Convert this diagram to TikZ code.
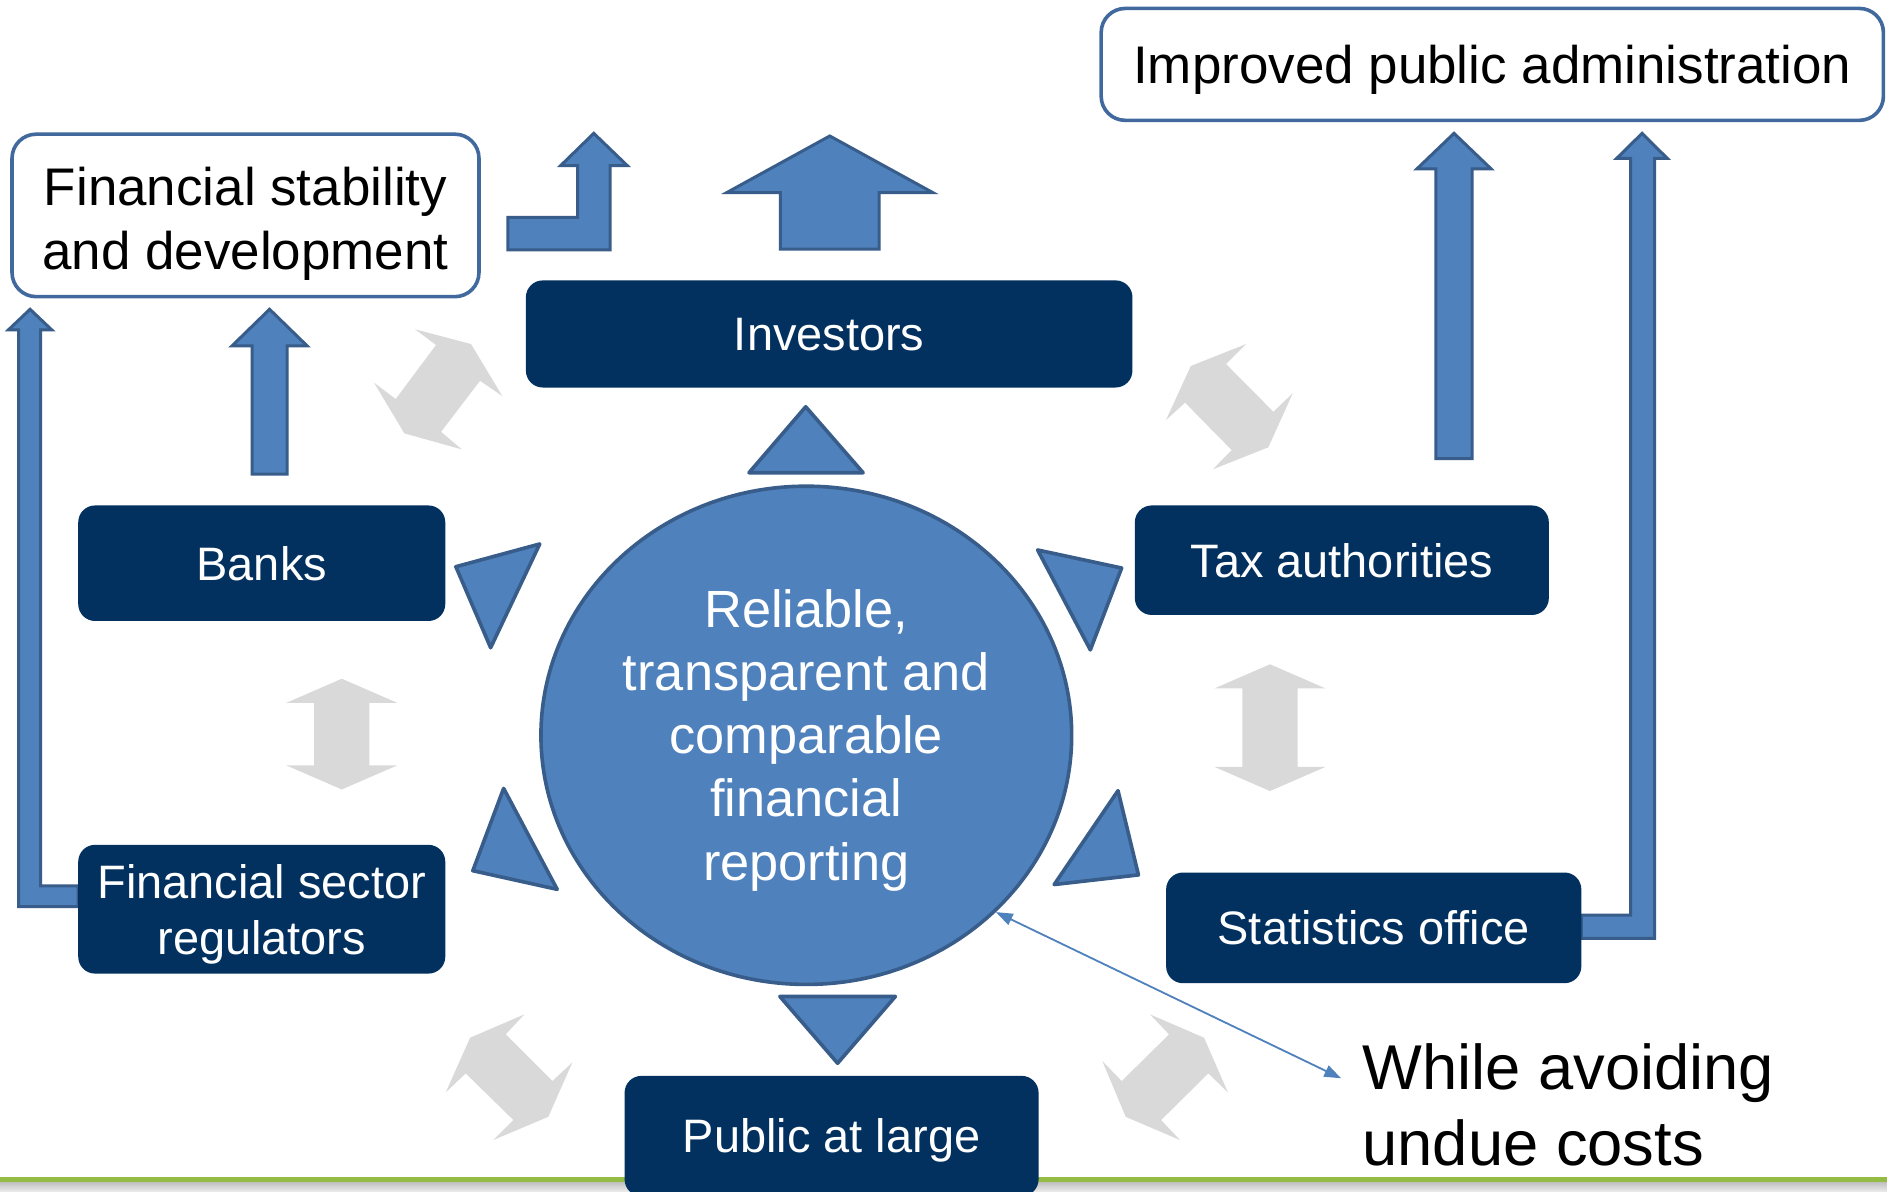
\documentclass[tikz,border=0pt]{standalone}
\usepackage{fontspec}
\setmainfont{Liberation Sans}
\usepackage{tikz}
\usetikzlibrary{arrows.meta}
\usetikzlibrary{shapes.geometric}
\usetikzlibrary{positioning}

\definecolor{navy}{HTML}{03315F}
\definecolor{midblue}{HTML}{4F81BD}
\definecolor{edgeblue}{HTML}{385D8A}
\definecolor{frameblue}{HTML}{41699E}
\definecolor{swapgray}{HTML}{D9D9D9}
\definecolor{rulegreen}{HTML}{94BC44}

\newcommand{\cellstack}[2][c]{\begin{tabular}[t]{@{}#1@{}}#2\end{tabular}}

\tikzset{
    actor/.style={fill=navy, rounded corners=14pt, text=white, inner sep=0pt,
        text height=28pt, text depth=0pt, font=\fontsize{39pt}{47pt}\selectfont},
    outcome/.style={draw=frameblue, line width=3pt, fill=white, rounded corners=20pt,
        inner sep=0pt, font=\fontsize{44pt}{53pt}\selectfont},
    pointer/.style={fill=midblue, draw=edgeblue, line width=3pt, line join=round},
    blockarrow/.style={fill=midblue, draw=edgeblue, line width=2.5pt},
    twoway/.style={fill=swapgray},
    costline/.style={draw=midblue, line width=1.5pt,
        {Triangle[length=14pt,width=10pt]}-{Triangle[length=14pt,width=10pt]}}
}

\begin{document}
\begin{tikzpicture}[x=1pt, y=-1pt]
        \useasboundingbox[fill=white] (0,0) rectangle (1568,990);

        % footer rule
        \fill[rulegreen] (0,978.3) rectangle (1568,982.2);
        \shade[top color=black!25, bottom color=black!8] (0,982.2) rectangle (1568,990);

        % grey two-way arrows between the users
        \fill[twoway] (344.9,273.6) -- (391.4,285.9) -- (417.4,329.1) -- (398.9,316.4) -- (366.5,358.8)
            -- (383.7,373.4) -- (336.0,360.1) -- (310.8,318.0) -- (328.8,331.6) -- (362.3,286.7) -- cycle;
        \fill[twoway] (1035.4,285.9) -- (989.5,304.1) -- (968.9,349.0) -- (984.7,334.6) -- (1023.5,374.0)
            -- (1007.7,390.0) -- (1053.9,371.7) -- (1074.2,326.8) -- (1058.1,342.1) -- (1018.8,302.5) -- cycle;
        \fill[twoway] (435.7,842.9) -- (390.6,862.3) -- (370.4,907.7) -- (387.0,891.9) -- (426.6,930.7)
            -- (409.9,947.3) -- (455.6,928.0) -- (475.6,882.8) -- (459.0,898.3) -- (420.2,859.5) -- cycle;
        \fill[twoway] (955.6,842.9) -- (1000.5,862.3) -- (1020.3,907.7) -- (1004.1,891.9) -- (964.8,930.7)
            -- (980.5,947.3) -- (935.4,928.0) -- (916.0,881.7) -- (932.1,898.3) -- (971.4,859.5) -- cycle;
        \foreach \cx/\yt/\yb in {284/564/656, 1055.3/552/657.3}
        {
            \fill[twoway] (\cx,\yt) -- (\cx+46,\yt+20) -- (\cx+23,\yt+20) -- (\cx+23,\yb-20) -- (\cx+46,\yb-20)
                -- (\cx,\yb) -- (\cx-46,\yb-20) -- (\cx-23,\yb-20) -- (\cx-23,\yt+20) -- (\cx-46,\yt+20) -- cycle;
        }

        % upward block arrows
        \foreach \cx/\yb/\yt/\ws/\wh/\lh in {224/394/257/14.6/31.3/30.5, 689.5/207/113/41/85.5/47, 1208.2/381/110.8/15.1/30.8/29.5}
        {
            \draw[blockarrow] (\cx-\ws,\yb) -- (\cx-\ws,\yt+\lh) -- (\cx-\wh,\yt+\lh) -- (\cx,\yt)
                -- (\cx+\wh,\yt+\lh) -- (\cx+\ws,\yt+\lh) -- (\cx+\ws,\yb) -- cycle;
        }
        \draw[blockarrow] (422,180.6) -- (480,180.6) -- (480,137.7) -- (465.8,137.7) -- (493.4,110.8)
            -- (521.3,137.7) -- (507,137.7) -- (507,207.7) -- (422,207.7) -- cycle;
        \draw[blockarrow] (1314,760.4) -- (1355,760.4) -- (1355,131.6) -- (1343.4,131.6) -- (1364.5,110.8)
            -- (1385.4,131.6) -- (1374.8,131.6) -- (1374.8,779.7) -- (1314,779.7) -- cycle;
        \draw[blockarrow] (65,736.2) -- (33.8,736.2) -- (33.8,274.2) -- (43.1,274.2) -- (25,257)
            -- (6.9,274.2) -- (15.5,274.2) -- (15.5,753.4) -- (65,753.4) -- cycle;

        % triangles round the centre
        \foreach \ax/\ay/\bx/\by/\qx/\qy in {669.5/338/717.2/392.8/622.4/392.8, 648/828/744/828/696/883.5,
            378.8/470.9/448.5/452/407.7/538.2, 418.5/655.1/463/739/392.9/723.5,
            862.2/457/932/472/906/540, 929/657/946/727/876/735}
        {
            \draw[pointer] (\ax,\ay) -- (\bx,\by) -- (\qx,\qy) -- cycle;
        }

        \node[ellipse, fill=midblue, draw=edgeblue, line width=3pt, minimum width=441pt, minimum height=414pt,
            inner sep=0pt, text=white, font=\fontsize{43.5pt}{52.6pt}\selectfont,
            text height=36.8pt, text depth=216.8pt] (reporting) at (670,611)
            {\cellstack{Reliable,\\transparent and\\comparable\\financial\\reporting}};

        \node[actor, minimum width=504pt, minimum height=89pt] (investors) at (689,277.5) {Investors};
        \node[actor, minimum width=305pt, minimum height=96pt] (banks) at (217.5,468) {Banks};
        \node[actor, minimum width=344pt, minimum height=91pt] (tax) at (1115,465.5) {Tax authorities};
        \node[actor, minimum width=305pt, minimum height=107pt, text height=33pt, text depth=51pt] (regulators)
            at (217.5,755.5) {\cellstack{Financial sector\\regulators}};
        \node[actor, minimum width=345pt, minimum height=92pt] (statistics) at (1141.5,771) {Statistics office};
        \node[actor, minimum width=344pt, minimum height=100pt] (public) at (691,944) {Public at large};

        \node[outcome, minimum width=388pt, minimum height=135pt, text height=37pt, text depth=53pt] (stability)
            at (204,179) {\cellstack{Financial stability\\and development}};
        \node[outcome, minimum width=650pt, minimum height=93pt, text height=32pt, text depth=0pt] (administration)
            at (1240,53.5) {Improved public administration};

        \node[anchor=base west, inner sep=0pt, font=\fontsize{52.6pt}{63pt}\selectfont] (costs)
            at (1132,905.2) {\cellstack[l]{While avoiding\\undue costs}};
        \draw[costline] ([shift={(-17.6,-9.2)}]costs.base west) -- (reporting.-43);
\end{tikzpicture}
\end{document}
